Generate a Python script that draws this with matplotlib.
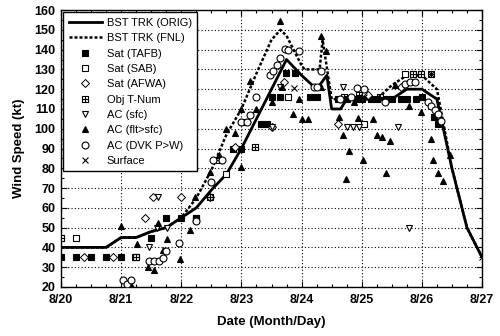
import numpy as np
import matplotlib
matplotlib.use("Agg")
import matplotlib.pyplot as plt
from matplotlib.path import Path
from matplotlib.ticker import MultipleLocator, FixedLocator

plt.rcParams['font.family'] = ['Liberation Sans', 'DejaVu Sans']

#   time axis = days after 8/20 00Z
day_labels = ['8/20', '8/21', '8/22', '8/23', '8/24', '8/25', '8/26', '8/27']

#   best tracks
orig_t = [0, 0.25, 0.5, 0.75, 1.0, 1.25, 1.5, 1.75, 2.0, 2.25, 2.5, 2.75, 3.0, 3.25, 3.5, 3.75,
          4.0, 4.25, 4.42, 4.5, 4.65, 4.75, 5.0, 5.25, 5.5, 5.75, 6.0, 6.25, 6.5, 6.75, 7.0]
orig_kt = [40, 40, 40, 40, 45, 45, 48, 50, 55, 60, 69, 77, 90, 105, 120, 135,
           127, 120, 127, 110, 110, 115, 115, 115, 115, 120, 120, 115, 80, 50, 35]

fnl_t = [0, 0.25, 0.5, 0.75, 1.0, 1.25, 1.5, 1.75, 2.0, 2.25, 2.5, 2.75, 3.0, 3.25, 3.5, 3.65,
         3.75, 4.0, 4.05, 4.3, 4.35, 4.5, 4.75, 5.0, 5.25, 5.5, 5.75, 6.0, 6.25, 6.5, 6.75, 7.0]
fnl_kt = [40, 40, 40, 40, 45, 45, 48, 50, 55, 65, 79, 97, 110, 128, 145, 150,
          147, 132, 130, 130, 145, 115, 115, 115, 115, 122, 127, 127, 120, 80, 50, 35]

#   fixes
tafb_t = [0, 0.25, 0.5, 0.75, 1.0, 1.23, 1.5, 1.75, 2.0, 2.25, 2.86, 3.0, 3.32, 3.42, 3.5, 3.64,
          3.74, 3.89, 4.14, 4.25, 4.6, 4.75, 4.9, 5.0, 5.15, 5.25, 5.4, 5.5, 5.65, 5.75, 5.9, 6.0,
          6.2, 6.27]
tafb_kt = [35, 35, 35, 35, 35, 35, 45, 55, 55, 55, 90, 90, 102.5, 102.5, 116, 116,
           128, 128, 116, 116, 115, 115, 115, 115, 115, 115, 115, 115, 115, 115, 115, 116,
           106, 102.5]

sab_t = [0, 0.25, 1.25, 2.25, 2.75, 3.78, 5.03, 5.72, 5.85, 5.98]
sab_kt = [45, 45, 35, 54, 77, 116, 102.5, 127.5, 127.5, 127.5]

afwa_t = [0.39, 0.87, 1.4, 1.53, 1.99, 2.48, 2.9, 3.5, 3.7, 4.6, 5.1, 5.65]
afwa_kt = [35, 35, 55, 65.5, 65.5, 65.5, 90.7, 101, 123.5, 102.5, 117, 121]

tnum_t = [0, 1.25, 2.25, 2.48, 2.62, 3.03, 3.23, 4.7, 4.95, 5.3, 5.85, 5.98, 6.15]
tnum_kt = [45, 35, 55, 65.5, 84.3, 103.3, 90.7, 116, 117, 116, 127.5, 127.5, 127.5]

acsfc_t = [1.47, 1.62, 1.6, 1.76, 3.5, 3.64, 4.69, 4.75, 4.85, 4.95, 5.6, 5.79]
acsfc_kt = [40, 65.5, 50, 50, 100.8, 121, 121, 100.8, 100.8, 100.8, 100.8, 49.8]

acflt_t = [1.0, 1.16, 1.26, 1.45, 1.55, 1.62, 1.69, 1.76, 1.98, 2.15, 2.23, 2.48, 2.62, 2.75,
           2.89, 3.0, 3.0, 3.14, 3.25, 3.5, 3.64, 3.67, 3.86, 3.95, 4.0, 4.11, 4.33, 4.33,
           4.41, 4.63, 4.69, 4.74, 4.79, 4.87, 4.93, 5.02, 5.19, 5.25, 5.33, 5.4, 5.47, 5.55,
           5.79, 5.98, 6.16, 6.19, 6.27, 6.35, 6.47]
acflt_kt = [50.6, 21, 41.6, 30, 28.8, 52.3, 38.5, 44, 34.3, 48.6, 65.5, 78, 86.5, 100,
            98, 110, 80.5, 124, 110, 113.4, 154.7, 121, 107.6, 115, 105, 105, 147, 121,
            139.5, 105.9, 96.6, 74.5, 88.5, 113.4, 105.6, 84.3, 104.7, 96.6, 95.8, 77.6, 93.7, 122,
            111.3, 108.4, 95, 84.3, 77.6, 73.4, 86.5]

dvk_t = [1.03, 1.09, 1.17, 1.47, 1.55, 1.63, 1.7, 1.75, 1.97, 2.25, 2.5, 2.53, 2.67, 3.0,
         3.09, 3.14, 3.24, 3.47, 3.53, 3.59, 3.64, 3.72, 3.78, 3.95, 4.2, 4.25, 4.33, 4.64,
         4.83, 4.92, 5.03, 5.39, 5.72, 5.8, 5.89, 6.1, 6.16, 6.22, 6.27, 6.32]
dvk_kt = [23.7, 21.4, 23.7, 33.1, 33.1, 33.1, 34.8, 38.2, 42.2, 53.3, 73, 84.3, 84.3, 103.3,
          103.3, 106.7, 116, 127, 129.4, 132, 136, 140.4, 140, 139.5, 121, 121, 129.4, 115.2,
          116, 120.7, 120.2, 113.4, 122.7, 123.5, 123.5, 113.4, 111.3, 109.6, 107.6, 104]

sfc_t = [3.87, 5.03, 6.15, 7.0]
sfc_kt = [120.5, 116, 127.5, 35]

#   square with a cross inside for the objective T-numbers
boxplus = Path([(-1, -1), (1, -1), (1, 1), (-1, 1), (-1, -1), (0, -1), (0, 1), (-1, 0), (1, 0)],
               [Path.MOVETO, Path.LINETO, Path.LINETO, Path.LINETO, Path.CLOSEPOLY,
                Path.MOVETO, Path.LINETO, Path.MOVETO, Path.LINETO])

fig = plt.figure(figsize=(5.0, 3.36), dpi=100)
ax = fig.add_axes([0.122, 0.146, 0.842, 0.824])

ax.plot(fnl_t, fnl_kt, color='k', lw=1.8, ls=(0, (1.2, 0.8)), label='BST TRK (FNL)', zorder=3)
ax.plot(orig_t, orig_kt, color='k', lw=2.0, label='BST TRK (ORIG)', zorder=4)

ms = 4.5
kw = dict(ls='none', color='k', zorder=5)
ax.plot(tafb_t, tafb_kt, marker='s', ms=ms, mfc='k', mew=0.8, label='Sat (TAFB)', **kw)
ax.plot(sab_t, sab_kt, marker='s', ms=ms, mfc='white', mew=0.8, label='Sat (SAB)', **kw)
ax.plot(afwa_t, afwa_kt, marker='D', ms=3.6, mfc='white', mew=0.7, label='Sat (AFWA)', **kw)
ax.plot(tnum_t, tnum_kt, marker=boxplus, ms=ms, mfc='none', mew=0.8, label='Obj T-Num', **kw)
ax.plot(acsfc_t, acsfc_kt, marker='v', ms=ms, mfc='white', mew=0.8, label='AC (sfc)', **kw)
ax.plot(acflt_t, acflt_kt, marker='^', ms=ms, mfc='k', mew=0.8, label='AC (flt>sfc)', **kw)
ax.plot(dvk_t, dvk_kt, marker='o', ms=ms + 0.5, mfc='white', mew=0.8, label='AC (DVK P>W)', **kw)
ax.plot(sfc_t, sfc_kt, marker='x', ms=ms, mew=0.8, label='Surface', **kw)

ax.set_xlim(0, 7)
ax.set_ylim(20, 160)
ax.xaxis.set_major_locator(FixedLocator(range(8)))
ax.set_xticklabels(day_labels)
ax.xaxis.set_minor_locator(MultipleLocator(0.25))
ax.yaxis.set_major_locator(MultipleLocator(10))
ax.yaxis.set_minor_locator(MultipleLocator(5))
ax.tick_params(which='both', direction='in', top=True, right=True, width=0.8)
ax.tick_params(which='major', length=4, labelsize=9)
ax.tick_params(axis='x', which='major', pad=5)
ax.tick_params(axis='y', which='major', pad=4)
ax.tick_params(which='minor', length=2.5)
for lab in ax.get_xticklabels() + ax.get_yticklabels():
    lab.set_fontweight('bold')
ax.grid(True, which='major', color='k', ls=(0, (1, 2)), lw=0.8)
for s in ax.spines.values():
    s.set_linewidth(1.0)

ax.set_xlabel('Date (Month/Day)', fontsize=9.5, fontweight='bold', labelpad=7)
ax.set_ylabel('Wind Speed (kt)', fontsize=9.5, fontweight='bold', labelpad=7)

handles, labels = ax.get_legend_handles_labels()
order = [1, 0, 2, 3, 4, 5, 6, 7, 8, 9]
leg = ax.legend([handles[i] for i in order], [labels[i] for i in order], loc='upper left',
                fontsize=8, frameon=True, fancybox=False, edgecolor='k', framealpha=1,
                handlelength=3.0, handletextpad=0.4, labelspacing=0.48, borderpad=0.5,
                borderaxespad=0.2)
leg.get_frame().set_linewidth(1.0)
leg.set_zorder(10)

fig.savefig('out.png', dpi=100)
